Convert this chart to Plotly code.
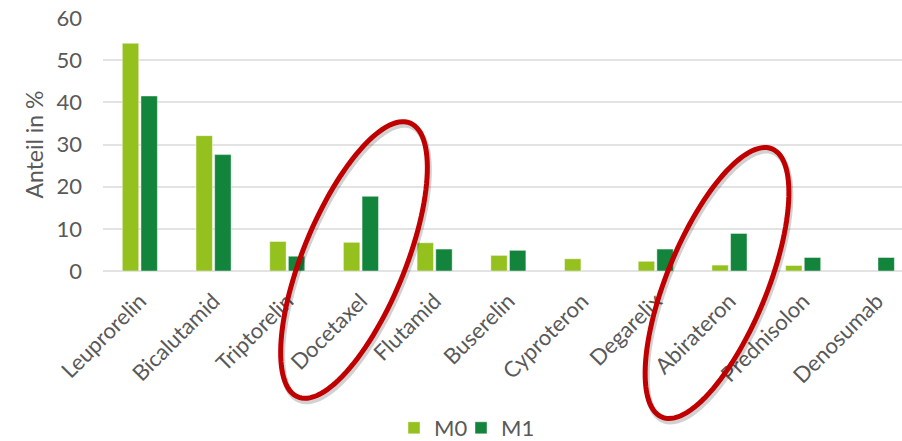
import numpy as np
import plotly.graph_objects as go

# Share of patients (%) per active substance, by metastasis status
categories = ["Leuprorelin", "Bicalutamid", "Triptorelin", "Docetaxel", "Flutamid",
              "Buserelin", "Cyproteron", "Degarelix", "Abirateron", "Prednisolon", "Denosumab"]
m0_values = [54.0, 32.1, 7.0, 6.8, 6.7, 3.7, 2.9, 2.3, 1.4, 1.3, None]
m1_values = [41.5, 27.6, 3.5, 17.7, 5.2, 4.9, None, 5.2, 8.9, 3.2, 3.2]
y_ticks = [0, 10, 20, 30, 40, 50, 60]

W, H = 902, 441
ML, MR, MT, MB = 103, 0, 18, 170
PW, PH = W - ML - MR, H - MT - MB
STEP = 73.7  # pixel width of one category band
X_MAX = -0.5 + PW / STEP

FONT = "Lato"
FS = 22
GREY = "#595959"
LIGHT = "#95C11F"
DARK = "#13843B"

fig = go.Figure()
fig.add_bar(name="M0", x=categories, y=m0_values, marker_color=LIGHT,
            marker_line=dict(color="rgba(255,255,255,0.55)", width=0.8), legend="legend")
fig.add_bar(name="M1", x=categories, y=m1_values, marker_color=DARK,
            marker_line=dict(color="rgba(255,255,255,0.55)", width=0.8), legend="legend2")


def px_to_paper(px, py):
    return (px - ML) / PW, (H - MB - py) / PH


def ellipse_path(cx, cy, a, b, tilt_deg, dx=0.0, dy=0.0, n=120):
    """Closed SVG path of a tilted ellipse, given in page pixels, returned in paper units."""
    t = np.linspace(0, 2 * np.pi, n)
    th = np.radians(tilt_deg)
    # major axis direction (screen coords, y downward)
    ux, uy = np.sin(th), -np.cos(th)
    vx, vy = np.cos(th), np.sin(th)
    xs = cx + dx + a * np.cos(t) * ux + b * np.sin(t) * vx
    ys = cy + dy + a * np.cos(t) * uy + b * np.sin(t) * vy
    pts = [px_to_paper(x, y) for x, y in zip(xs, ys)]
    return "M " + " L ".join(f"{x:.5f},{y:.5f}" for x, y in pts) + " Z"


# highlight rings around Docetaxel and Abirateron
rings = [(354, 260, 148, 51, 22.3), (717, 283, 145, 50, 22.3)]
shapes = []
for cx, cy, a, b, tilt in rings:
    shapes.append(dict(type="path", xref="paper", yref="paper", layer="above",
                       path=ellipse_path(cx, cy, a, b, tilt, dx=1.5, dy=3),
                       line=dict(color="rgba(0,0,0,0.18)", width=6)))
    shapes.append(dict(type="path", xref="paper", yref="paper", layer="above",
                       path=ellipse_path(cx, cy, a, b, tilt),
                       line=dict(color="#C00000", width=5)))


def legend_at(px_left):
    return dict(orientation="h", x=(px_left - ML) / PW, xanchor="left",
                y=(H - MB - 428) / PH, yanchor="middle", itemwidth=30,
                font=dict(family=FONT, size=FS, color=GREY),
                bgcolor="rgba(0,0,0,0)")


fig.update_layout(
    width=W, height=H,
    margin=dict(l=ML, r=MR, t=MT, b=MB, autoexpand=False),
    paper_bgcolor="white", plot_bgcolor="white",
    font=dict(family=FONT, size=FS, color=GREY),
    barmode="group", bargap=0.494, bargroupgap=0.12,
    shapes=shapes,
    legend=legend_at(408 - 14),
    legend2=legend_at(475 - 14),
    showlegend=True,
)
fig.update_xaxes(range=[-0.5, X_MAX], tickangle=-45, showgrid=False,
                 showline=False, ticks="", ticklabelstandoff=12,
                 tickfont=dict(family=FONT, size=FS, color=GREY), automargin=False)
fig.update_yaxes(range=[0, 60], tickvals=y_ticks, showgrid=True, gridcolor="#E3E3E3",
                 gridwidth=1.5, zeroline=True, zerolinecolor="#E3E3E3", zerolinewidth=1.5,
                 showline=False, ticks="", ticklabelstandoff=20,
                 tickfont=dict(family=FONT, size=FS, color=GREY),
                 title=dict(text="Anteil in %", standoff=6,
                            font=dict(family=FONT, size=23, color=GREY)),
                 automargin=False)

fig.write_html("out.html")
